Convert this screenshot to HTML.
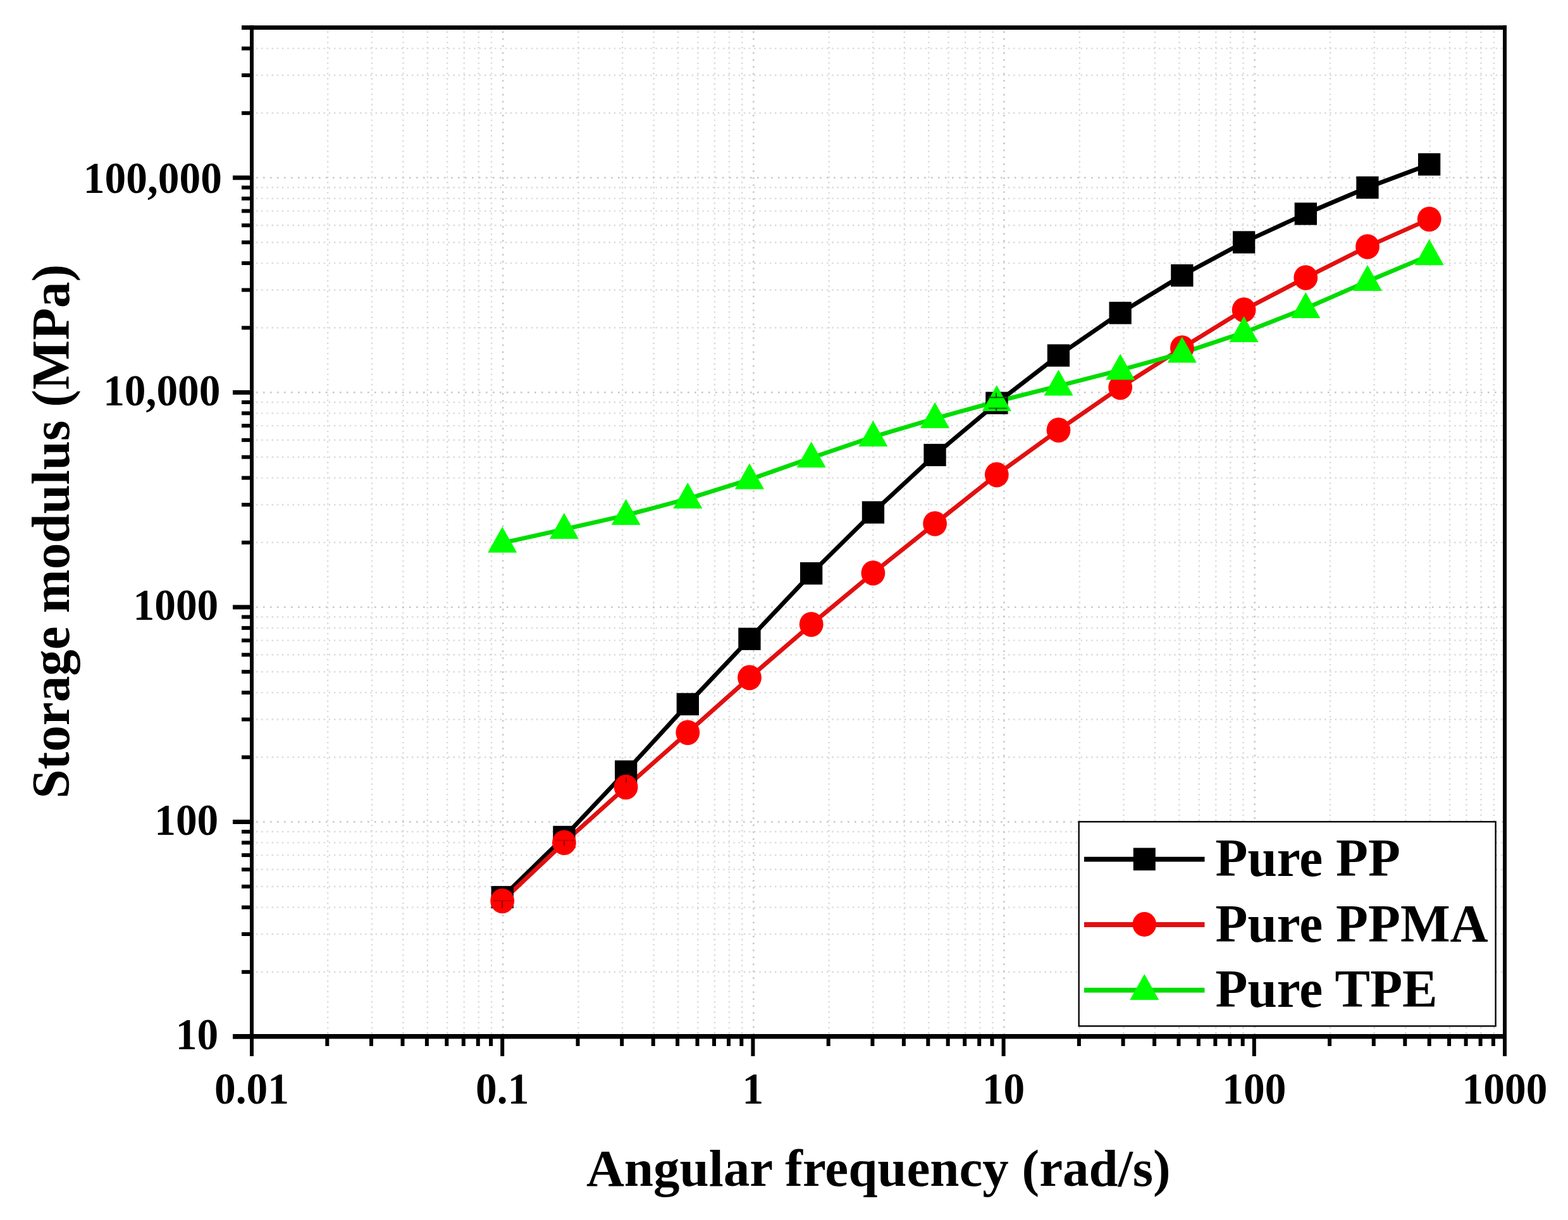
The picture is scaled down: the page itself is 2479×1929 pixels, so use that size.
<!DOCTYPE html>
<html><head><meta charset="utf-8"><title>Storage modulus vs angular frequency</title>
<style>html,body{margin:0;padding:0;background:#fff;}svg{display:block;}</style>
</head><body>
<svg width="2479" height="1929" viewBox="0 0 2479 1929">
<rect width="2479" height="1929" fill="#fff"/>
<g stroke="#d9d9d9" stroke-width="2.4" stroke-dasharray="2.4 5.8"><line x1="518.2" y1="49.5" x2="518.2" y2="1635.0"/><line x1="587.9" y1="49.5" x2="587.9" y2="1635.0"/><line x1="637.4" y1="49.5" x2="637.4" y2="1635.0"/><line x1="675.8" y1="49.5" x2="675.8" y2="1635.0"/><line x1="707.2" y1="49.5" x2="707.2" y2="1635.0"/><line x1="733.7" y1="49.5" x2="733.7" y2="1635.0"/><line x1="756.7" y1="49.5" x2="756.7" y2="1635.0"/><line x1="777.0" y1="49.5" x2="777.0" y2="1635.0"/><line x1="914.4" y1="49.5" x2="914.4" y2="1635.0"/><line x1="984.1" y1="49.5" x2="984.1" y2="1635.0"/><line x1="1033.6" y1="49.5" x2="1033.6" y2="1635.0"/><line x1="1072.0" y1="49.5" x2="1072.0" y2="1635.0"/><line x1="1103.4" y1="49.5" x2="1103.4" y2="1635.0"/><line x1="1129.9" y1="49.5" x2="1129.9" y2="1635.0"/><line x1="1152.9" y1="49.5" x2="1152.9" y2="1635.0"/><line x1="1173.2" y1="49.5" x2="1173.2" y2="1635.0"/><line x1="1310.6" y1="49.5" x2="1310.6" y2="1635.0"/><line x1="1380.3" y1="49.5" x2="1380.3" y2="1635.0"/><line x1="1429.8" y1="49.5" x2="1429.8" y2="1635.0"/><line x1="1468.2" y1="49.5" x2="1468.2" y2="1635.0"/><line x1="1499.6" y1="49.5" x2="1499.6" y2="1635.0"/><line x1="1526.1" y1="49.5" x2="1526.1" y2="1635.0"/><line x1="1549.1" y1="49.5" x2="1549.1" y2="1635.0"/><line x1="1569.4" y1="49.5" x2="1569.4" y2="1635.0"/><line x1="1706.8" y1="49.5" x2="1706.8" y2="1635.0"/><line x1="1776.5" y1="49.5" x2="1776.5" y2="1635.0"/><line x1="1826.0" y1="49.5" x2="1826.0" y2="1635.0"/><line x1="1864.4" y1="49.5" x2="1864.4" y2="1635.0"/><line x1="1895.8" y1="49.5" x2="1895.8" y2="1635.0"/><line x1="1922.3" y1="49.5" x2="1922.3" y2="1635.0"/><line x1="1945.3" y1="49.5" x2="1945.3" y2="1635.0"/><line x1="1965.6" y1="49.5" x2="1965.6" y2="1635.0"/><line x1="2103.0" y1="49.5" x2="2103.0" y2="1635.0"/><line x1="2172.7" y1="49.5" x2="2172.7" y2="1635.0"/><line x1="2222.2" y1="49.5" x2="2222.2" y2="1635.0"/><line x1="2260.6" y1="49.5" x2="2260.6" y2="1635.0"/><line x1="2292.0" y1="49.5" x2="2292.0" y2="1635.0"/><line x1="2318.5" y1="49.5" x2="2318.5" y2="1635.0"/><line x1="2341.5" y1="49.5" x2="2341.5" y2="1635.0"/><line x1="2361.8" y1="49.5" x2="2361.8" y2="1635.0"/><line x1="405.0" y1="1536.8" x2="2376.0" y2="1536.8"/><line x1="405.0" y1="1477.0" x2="2376.0" y2="1477.0"/><line x1="405.0" y1="1434.6" x2="2376.0" y2="1434.6"/><line x1="405.0" y1="1401.7" x2="2376.0" y2="1401.7"/><line x1="405.0" y1="1374.8" x2="2376.0" y2="1374.8"/><line x1="405.0" y1="1352.1" x2="2376.0" y2="1352.1"/><line x1="405.0" y1="1332.4" x2="2376.0" y2="1332.4"/><line x1="405.0" y1="1315.0" x2="2376.0" y2="1315.0"/><line x1="405.0" y1="1197.3" x2="2376.0" y2="1197.3"/><line x1="405.0" y1="1137.5" x2="2376.0" y2="1137.5"/><line x1="405.0" y1="1095.1" x2="2376.0" y2="1095.1"/><line x1="405.0" y1="1062.2" x2="2376.0" y2="1062.2"/><line x1="405.0" y1="1035.3" x2="2376.0" y2="1035.3"/><line x1="405.0" y1="1012.6" x2="2376.0" y2="1012.6"/><line x1="405.0" y1="992.9" x2="2376.0" y2="992.9"/><line x1="405.0" y1="975.5" x2="2376.0" y2="975.5"/><line x1="405.0" y1="857.8" x2="2376.0" y2="857.8"/><line x1="405.0" y1="798.0" x2="2376.0" y2="798.0"/><line x1="405.0" y1="755.6" x2="2376.0" y2="755.6"/><line x1="405.0" y1="722.7" x2="2376.0" y2="722.7"/><line x1="405.0" y1="695.8" x2="2376.0" y2="695.8"/><line x1="405.0" y1="673.1" x2="2376.0" y2="673.1"/><line x1="405.0" y1="653.4" x2="2376.0" y2="653.4"/><line x1="405.0" y1="636.0" x2="2376.0" y2="636.0"/><line x1="405.0" y1="518.3" x2="2376.0" y2="518.3"/><line x1="405.0" y1="458.5" x2="2376.0" y2="458.5"/><line x1="405.0" y1="416.1" x2="2376.0" y2="416.1"/><line x1="405.0" y1="383.2" x2="2376.0" y2="383.2"/><line x1="405.0" y1="356.3" x2="2376.0" y2="356.3"/><line x1="405.0" y1="333.6" x2="2376.0" y2="333.6"/><line x1="405.0" y1="313.9" x2="2376.0" y2="313.9"/><line x1="405.0" y1="296.5" x2="2376.0" y2="296.5"/><line x1="405.0" y1="178.8" x2="2376.0" y2="178.8"/><line x1="405.0" y1="119.0" x2="2376.0" y2="119.0"/><line x1="405.0" y1="76.6" x2="2376.0" y2="76.6"/></g>
<g stroke="#c6c6c6" stroke-width="2.6" stroke-dasharray="2.6 8.4"><line x1="795.1" y1="49.5" x2="795.1" y2="1635.0"/><line x1="1191.3" y1="49.5" x2="1191.3" y2="1635.0"/><line x1="1587.5" y1="49.5" x2="1587.5" y2="1635.0"/><line x1="1983.7" y1="49.5" x2="1983.7" y2="1635.0"/><line x1="405.0" y1="1299.5" x2="2376.0" y2="1299.5"/><line x1="405.0" y1="960.0" x2="2376.0" y2="960.0"/><line x1="405.0" y1="620.5" x2="2376.0" y2="620.5"/><line x1="405.0" y1="281.0" x2="2376.0" y2="281.0"/></g>
<polyline points="794.2,1418.6 891.9,1323.5 989.6,1220.0 1087.3,1113.4 1185.0,1010.2 1282.7,906.6 1380.4,810.1 1478.1,719.4 1575.8,637.3 1673.5,562.0 1771.2,494.8 1868.9,435.5 1966.6,383.0 2064.3,338.0 2162.0,296.5 2259.7,260.0" fill="none" stroke="#000" stroke-width="6.8" stroke-linejoin="round"/>
<polyline points="794.2,1424.5 891.9,1332.3 989.6,1244.5 1087.3,1158.2 1185.0,1071.4 1282.7,987.2 1380.4,906.0 1478.1,828.0 1575.8,750.6 1673.5,680.0 1771.2,612.5 1868.9,550.1 1966.6,490.0 2064.3,439.0 2162.0,390.0 2259.7,346.5" fill="none" stroke="#e21010" stroke-width="6.8" stroke-linejoin="round"/>
<polyline points="794.2,858.5 891.9,836.9 989.6,814.7 1087.3,788.7 1185.0,758.2 1282.7,723.9 1380.4,690.8 1478.1,661.7 1575.8,634.9 1673.5,610.3 1771.2,585.2 1868.9,558.2 1966.6,525.8 2064.3,487.6 2162.0,444.8 2259.7,403.9" fill="none" stroke="#00dc00" stroke-width="6.8" stroke-linejoin="round"/>
<rect x="776.6" y="1400.9" width="35.3" height="35.3" fill="#000"/>
<rect x="874.3" y="1305.8" width="35.3" height="35.3" fill="#000"/>
<rect x="972.0" y="1202.3" width="35.3" height="35.3" fill="#000"/>
<rect x="1069.7" y="1095.8" width="35.3" height="35.3" fill="#000"/>
<rect x="1167.3" y="992.6" width="35.3" height="35.3" fill="#000"/>
<rect x="1265.0" y="889.0" width="35.3" height="35.3" fill="#000"/>
<rect x="1362.8" y="792.5" width="35.3" height="35.3" fill="#000"/>
<rect x="1460.4" y="701.8" width="35.3" height="35.3" fill="#000"/>
<rect x="1558.2" y="619.6" width="35.3" height="35.3" fill="#000"/>
<rect x="1655.8" y="544.4" width="35.3" height="35.3" fill="#000"/>
<rect x="1753.5" y="477.2" width="35.3" height="35.3" fill="#000"/>
<rect x="1851.2" y="417.9" width="35.3" height="35.3" fill="#000"/>
<rect x="1949.0" y="365.4" width="35.3" height="35.3" fill="#000"/>
<rect x="2046.7" y="320.4" width="35.3" height="35.3" fill="#000"/>
<rect x="2144.3" y="278.9" width="35.3" height="35.3" fill="#000"/>
<rect x="2242.0" y="242.3" width="35.3" height="35.3" fill="#000"/>
<ellipse cx="794.2" cy="1424.5" rx="18.9" ry="19.8" fill="#ff0000"/>
<ellipse cx="891.9" cy="1332.3" rx="18.9" ry="19.8" fill="#ff0000"/>
<ellipse cx="989.6" cy="1244.5" rx="18.9" ry="19.8" fill="#ff0000"/>
<ellipse cx="1087.3" cy="1158.2" rx="18.9" ry="19.8" fill="#ff0000"/>
<ellipse cx="1185.0" cy="1071.4" rx="18.9" ry="19.8" fill="#ff0000"/>
<ellipse cx="1282.7" cy="987.2" rx="18.9" ry="19.8" fill="#ff0000"/>
<ellipse cx="1380.4" cy="906.0" rx="18.9" ry="19.8" fill="#ff0000"/>
<ellipse cx="1478.1" cy="828.0" rx="18.9" ry="19.8" fill="#ff0000"/>
<ellipse cx="1575.8" cy="750.6" rx="18.9" ry="19.8" fill="#ff0000"/>
<ellipse cx="1673.5" cy="680.0" rx="18.9" ry="19.8" fill="#ff0000"/>
<ellipse cx="1771.2" cy="612.5" rx="18.9" ry="19.8" fill="#ff0000"/>
<ellipse cx="1868.9" cy="550.1" rx="18.9" ry="19.8" fill="#ff0000"/>
<ellipse cx="1966.6" cy="490.0" rx="18.9" ry="19.8" fill="#ff0000"/>
<ellipse cx="2064.3" cy="439.0" rx="18.9" ry="19.8" fill="#ff0000"/>
<ellipse cx="2162.0" cy="390.0" rx="18.9" ry="19.8" fill="#ff0000"/>
<ellipse cx="2259.7" cy="346.5" rx="18.9" ry="19.8" fill="#ff0000"/>
<polygon points="794.2,832.8 817.2,873.8 771.2,873.8" fill="#00ff00"/>
<polygon points="891.9,811.1 914.9,852.1 868.9,852.1" fill="#00ff00"/>
<polygon points="989.6,789.0 1012.6,830.0 966.6,830.0" fill="#00ff00"/>
<polygon points="1087.3,763.0 1110.3,804.0 1064.3,804.0" fill="#00ff00"/>
<polygon points="1185.0,732.5 1208.0,773.5 1162.0,773.5" fill="#00ff00"/>
<polygon points="1282.7,698.2 1305.7,739.2 1259.7,739.2" fill="#00ff00"/>
<polygon points="1380.4,665.1 1403.4,706.1 1357.4,706.1" fill="#00ff00"/>
<polygon points="1478.1,636.0 1501.1,677.0 1455.1,677.0" fill="#00ff00"/>
<polygon points="1575.8,609.1 1598.8,650.1 1552.8,650.1" fill="#00ff00"/>
<polygon points="1673.5,584.6 1696.5,625.6 1650.5,625.6" fill="#00ff00"/>
<polygon points="1771.2,559.5 1794.2,600.5 1748.2,600.5" fill="#00ff00"/>
<polygon points="1868.9,532.5 1891.9,573.5 1845.9,573.5" fill="#00ff00"/>
<polygon points="1966.6,500.1 1989.6,541.1 1943.6,541.1" fill="#00ff00"/>
<polygon points="2064.3,461.9 2087.3,502.9 2041.3,502.9" fill="#00ff00"/>
<polygon points="2162.0,419.1 2185.0,460.1 2139.0,460.1" fill="#00ff00"/>
<polygon points="2259.7,378.2 2282.7,419.2 2236.7,419.2" fill="#00ff00"/>
<g><line x1="779.5" y1="1424" x2="810.5" y2="1424" stroke="#c40000" stroke-width="1.8"/><line x1="794.1" y1="1424.5" x2="794.1" y2="1436" stroke="#8f0000" stroke-width="2"/><line x1="877.5" y1="1328.7" x2="908.5" y2="1328.7" stroke="#c40000" stroke-width="1.8"/><line x1="892" y1="1329.2" x2="892" y2="1337.8" stroke="#8f0000" stroke-width="2"/><line x1="990" y1="1229.5" x2="990" y2="1237.5" stroke="#8f0000" stroke-width="2"/><line x1="1563" y1="628.4" x2="1592.5" y2="628.4" stroke="#005a00" stroke-width="2"/><line x1="1575" y1="621" x2="1575" y2="628.4" stroke="#005a00" stroke-width="2"/><line x1="1563" y1="645.6" x2="1592.5" y2="645.6" stroke="#007000" stroke-width="2"/><line x1="1575" y1="645" x2="1575" y2="649.5" stroke="#005a00" stroke-width="2"/></g>
<g fill="#000"><rect x="395" y="40" width="6" height="1602.5"/><rect x="2376" y="40" width="6" height="1630"/><rect x="382" y="40.2" width="2000" height="6.8"/><rect x="368" y="1635.0" width="2014" height="7.5"/><rect x="395.0" y="1641.5" width="6" height="28.5"/><rect x="791.2" y="1641.5" width="6" height="28.5"/><rect x="1187.4" y="1641.5" width="6" height="28.5"/><rect x="1583.6" y="1641.5" width="6" height="28.5"/><rect x="1979.8" y="1641.5" width="6" height="28.5"/><rect x="2376.0" y="1641.5" width="6" height="28.5"/><rect x="514.3" y="1641.5" width="6" height="12.5"/><rect x="584.0" y="1641.5" width="6" height="12.5"/><rect x="633.5" y="1641.5" width="6" height="12.5"/><rect x="671.9" y="1641.5" width="6" height="12.5"/><rect x="703.3" y="1641.5" width="6" height="12.5"/><rect x="729.8" y="1641.5" width="6" height="12.5"/><rect x="752.8" y="1641.5" width="6" height="12.5"/><rect x="773.1" y="1641.5" width="6" height="12.5"/><rect x="910.5" y="1641.5" width="6" height="12.5"/><rect x="980.2" y="1641.5" width="6" height="12.5"/><rect x="1029.7" y="1641.5" width="6" height="12.5"/><rect x="1068.1" y="1641.5" width="6" height="12.5"/><rect x="1099.5" y="1641.5" width="6" height="12.5"/><rect x="1126.0" y="1641.5" width="6" height="12.5"/><rect x="1149.0" y="1641.5" width="6" height="12.5"/><rect x="1169.3" y="1641.5" width="6" height="12.5"/><rect x="1306.7" y="1641.5" width="6" height="12.5"/><rect x="1376.4" y="1641.5" width="6" height="12.5"/><rect x="1425.9" y="1641.5" width="6" height="12.5"/><rect x="1464.3" y="1641.5" width="6" height="12.5"/><rect x="1495.7" y="1641.5" width="6" height="12.5"/><rect x="1522.2" y="1641.5" width="6" height="12.5"/><rect x="1545.2" y="1641.5" width="6" height="12.5"/><rect x="1565.5" y="1641.5" width="6" height="12.5"/><rect x="1702.9" y="1641.5" width="6" height="12.5"/><rect x="1772.6" y="1641.5" width="6" height="12.5"/><rect x="1822.1" y="1641.5" width="6" height="12.5"/><rect x="1860.5" y="1641.5" width="6" height="12.5"/><rect x="1891.9" y="1641.5" width="6" height="12.5"/><rect x="1918.4" y="1641.5" width="6" height="12.5"/><rect x="1941.4" y="1641.5" width="6" height="12.5"/><rect x="1961.7" y="1641.5" width="6" height="12.5"/><rect x="2099.1" y="1641.5" width="6" height="12.5"/><rect x="2168.8" y="1641.5" width="6" height="12.5"/><rect x="2218.3" y="1641.5" width="6" height="12.5"/><rect x="2256.7" y="1641.5" width="6" height="12.5"/><rect x="2288.1" y="1641.5" width="6" height="12.5"/><rect x="2314.6" y="1641.5" width="6" height="12.5"/><rect x="2337.6" y="1641.5" width="6" height="12.5"/><rect x="2357.9" y="1641.5" width="6" height="12.5"/><rect x="368" y="1635.5" width="28" height="7"/><rect x="368" y="1296.0" width="28" height="7"/><rect x="368" y="956.5" width="28" height="7"/><rect x="368" y="617.0" width="28" height="7"/><rect x="368" y="277.5" width="28" height="7"/><rect x="382" y="1533.8" width="14" height="6"/><rect x="382" y="1474.0" width="14" height="6"/><rect x="382" y="1431.6" width="14" height="6"/><rect x="382" y="1398.7" width="14" height="6"/><rect x="382" y="1371.8" width="14" height="6"/><rect x="382" y="1349.1" width="14" height="6"/><rect x="382" y="1329.4" width="14" height="6"/><rect x="382" y="1312.0" width="14" height="6"/><rect x="382" y="1194.3" width="14" height="6"/><rect x="382" y="1134.5" width="14" height="6"/><rect x="382" y="1092.1" width="14" height="6"/><rect x="382" y="1059.2" width="14" height="6"/><rect x="382" y="1032.3" width="14" height="6"/><rect x="382" y="1009.6" width="14" height="6"/><rect x="382" y="989.9" width="14" height="6"/><rect x="382" y="972.5" width="14" height="6"/><rect x="382" y="854.8" width="14" height="6"/><rect x="382" y="795.0" width="14" height="6"/><rect x="382" y="752.6" width="14" height="6"/><rect x="382" y="719.7" width="14" height="6"/><rect x="382" y="692.8" width="14" height="6"/><rect x="382" y="670.1" width="14" height="6"/><rect x="382" y="650.4" width="14" height="6"/><rect x="382" y="633.0" width="14" height="6"/><rect x="382" y="515.3" width="14" height="6"/><rect x="382" y="455.5" width="14" height="6"/><rect x="382" y="413.1" width="14" height="6"/><rect x="382" y="380.2" width="14" height="6"/><rect x="382" y="353.3" width="14" height="6"/><rect x="382" y="330.6" width="14" height="6"/><rect x="382" y="310.9" width="14" height="6"/><rect x="382" y="293.5" width="14" height="6"/><rect x="382" y="175.8" width="14" height="6"/><rect x="382" y="116.0" width="14" height="6"/><rect x="382" y="73.6" width="14" height="6"/><rect x="382" y="40.7" width="14" height="6"/></g>
<text transform="translate(345.1,1659.1) scale(0.97,1)" font-family="Liberation Serif, serif" font-weight="bold" font-size="69.5" text-anchor="end">10</text>
<text transform="translate(345.3,1320.3) scale(0.97,1)" font-family="Liberation Serif, serif" font-weight="bold" font-size="69.5" text-anchor="end">100</text>
<text transform="translate(345.3,980.25) scale(0.97,1)" font-family="Liberation Serif, serif" font-weight="bold" font-size="69.5" text-anchor="end">1000</text>
<text transform="translate(348.5,640.95) scale(0.97,1)" font-family="Liberation Serif, serif" font-weight="bold" font-size="69.5" text-anchor="end">10,000</text>
<text transform="translate(350.9,304.7) scale(0.97,1)" font-family="Liberation Serif, serif" font-weight="bold" font-size="69.5" text-anchor="end">100,000</text>
<text transform="translate(398.0,1745.15) scale(0.97,1)" font-family="Liberation Serif, serif" font-weight="bold" font-size="69.5" text-anchor="middle">0.01</text>
<text transform="translate(794.2,1745.15) scale(0.97,1)" font-family="Liberation Serif, serif" font-weight="bold" font-size="69.5" text-anchor="middle">0.1</text>
<text transform="translate(1190.4,1745.15) scale(0.97,1)" font-family="Liberation Serif, serif" font-weight="bold" font-size="69.5" text-anchor="middle">1</text>
<text transform="translate(1586.6,1745.15) scale(0.97,1)" font-family="Liberation Serif, serif" font-weight="bold" font-size="69.5" text-anchor="middle">10</text>
<text transform="translate(1982.8,1745.15) scale(0.97,1)" font-family="Liberation Serif, serif" font-weight="bold" font-size="69.5" text-anchor="middle">100</text>
<text transform="translate(2379.0,1745.15) scale(0.97,1)" font-family="Liberation Serif, serif" font-weight="bold" font-size="69.5" text-anchor="middle">1000</text>
<text x="1388.8" y="1874.6" font-family="Liberation Serif, serif" font-weight="bold" font-size="83" text-anchor="middle">Angular frequency (rad/s)</text>
<text transform="translate(109,840.2) rotate(-90) scale(0.978,1)" x="0" y="0" font-family="Liberation Serif, serif" font-weight="bold" font-size="85" text-anchor="middle">Storage modulus (MPa)</text>
<rect x="1705.7" y="1299.3" width="658.9" height="323.1" fill="#fff" stroke="#000" stroke-width="2.35"/>
<line x1="1714.0" y1="1358.6" x2="1904.5" y2="1358.6" stroke="#000" stroke-width="7.9"/>
<rect x="1791.8" y="1340.6" width="35" height="35.7" fill="#000"/>
<line x1="1714.0" y1="1462.0" x2="1904.5" y2="1462.0" stroke="#e21010" stroke-width="7.8"/>
<ellipse cx="1809.3" cy="1461.5" rx="18.8" ry="19.6" fill="#ff0000"/>
<line x1="1714.0" y1="1565.6" x2="1904.5" y2="1565.6" stroke="#00dc00" stroke-width="7.9"/>
<polygon points="1809.3,1539.9 1832.3,1580.9 1786.3,1580.9" fill="#00ff00"/>
<text transform="translate(1921.6,1385.1) scale(0.986,1)" font-family="Liberation Serif, serif" font-weight="bold" font-size="84.5">Pure PP</text>
<text transform="translate(1921.6,1489.3) scale(0.986,1)" font-family="Liberation Serif, serif" font-weight="bold" font-size="84.5">Pure PPMA</text>
<text transform="translate(1921.6,1591.8) scale(0.986,1)" font-family="Liberation Serif, serif" font-weight="bold" font-size="84.5">Pure TPE</text>
</svg>
</body></html>
